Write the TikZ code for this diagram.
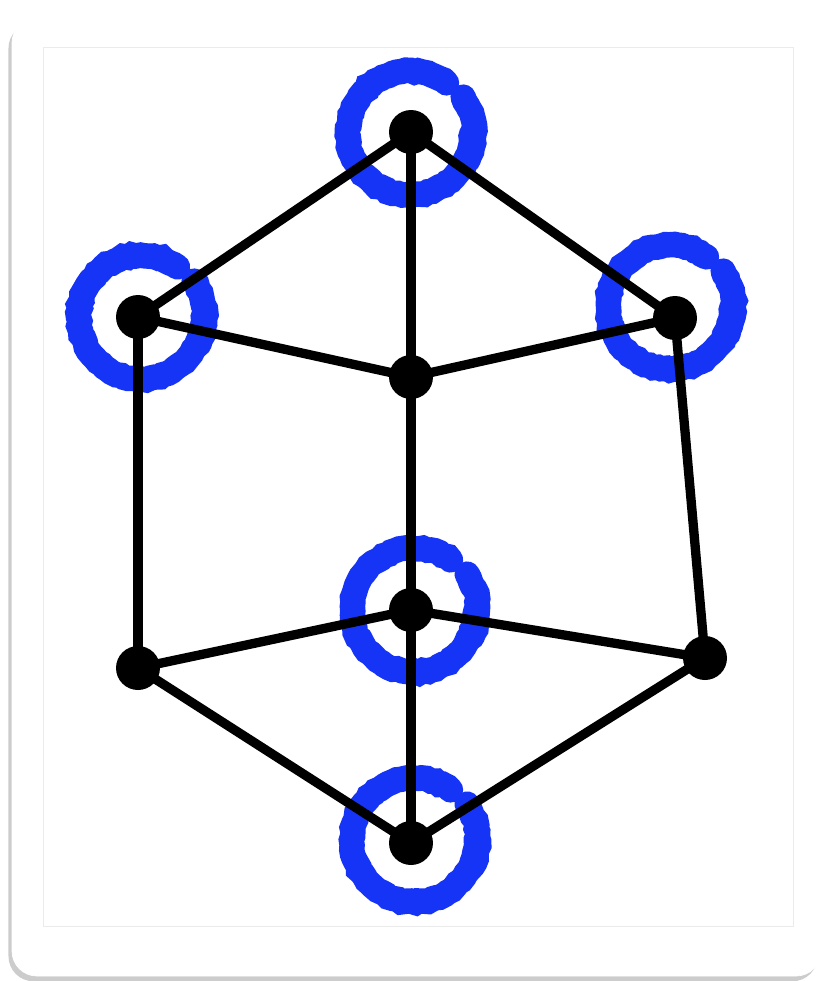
\documentclass[tikz,border=0pt]{standalone}
\usetikzlibrary{shadows,decorations.pathmorphing}
\definecolor{ringblue}{RGB}{22,52,246}
\tikzset{
  dot/.style={circle,fill=black,inner sep=0pt,minimum size=0.88cm},
  edge/.style={black,line width=5.3pt},
  ring/.style={draw=ringblue,line width=14.5pt,line cap=round,
    decorate,decoration={random steps,segment length=2.5pt,amplitude=0.6pt}},
}
\begin{document}
\begin{tikzpicture}[x=0.02cm,y=-0.02cm]
\useasboundingbox[fill=white] (0,0) rectangle (826,981);
\draw[white,fill=white,rounded corners=0.5cm,drop shadow={shadow xshift=-2pt,shadow yshift=-3pt,opacity=0.4}] (12,18) rectangle (821,976);
\draw[black!8,line width=0.5pt] (43,47) rectangle (793,926);
% rings
\foreach \cx/\cy in {410/133,141/317,670/307,414/610,414/840}{
  \draw[ring] (\cx,\cy) ++(54:1.24cm) arc[start angle=54,end angle=360,radius=1.24cm];
  \draw[ring] (\cx,\cy) ++(-25:1.28cm) arc[start angle=-25,end angle=34,radius=1.28cm];
}
% vertices
\node[dot] (top) at (411,132) {};
\node[dot] (upl) at (138,317) {};
\node[dot] (upr) at (675,318) {};
\node[dot] (mid) at (411,377) {};
\node[dot] (low) at (411,610) {};
\node[dot] (lowl) at (138,668) {};
\node[dot] (lowr) at (705,658) {};
\node[dot] (bot) at (411,843) {};
% edges
\draw[edge] (top.center) -- (upl.center);
\draw[edge] (top.center) -- (upr.center);
\draw[edge] (top.center) -- (mid.center);
\draw[edge] (upl.center) -- (mid.center);
\draw[edge] (upr.center) -- (mid.center);
\draw[edge] (upl.center) -- (lowl.center);
\draw[edge] (upr.center) -- (lowr.center);
\draw[edge] (mid.center) -- (low.center);
\draw[edge] (low.center) -- (lowl.center);
\draw[edge] (low.center) -- (lowr.center);
\draw[edge] (low.center) -- (bot.center);
\draw[edge] (lowl.center) -- (bot.center);
\draw[edge] (lowr.center) -- (bot.center);
\end{tikzpicture}
\end{document}
